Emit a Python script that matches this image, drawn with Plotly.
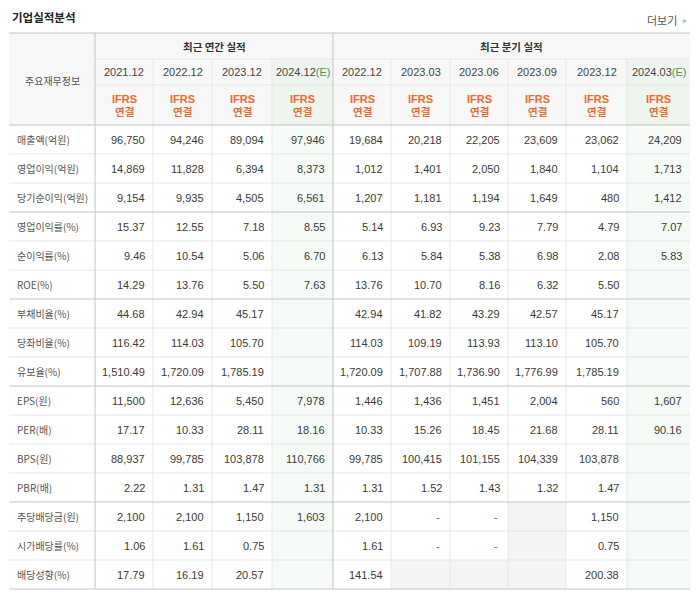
import plotly.graph_objects as go

# ---- data -----
row_labels = [
    "매출액(억원)", "영업이익(억원)", "당기순이익(억원)",
    "영업이익률(%)", "순이익률(%)", "ROE(%)",
    "부채비율(%)", "당좌비율(%)", "유보율(%)",
    "EPS(원)", "PER(배)", "BPS(원)", "PBR(배)",
    "주당배당금(원)", "시가배당률(%)", "배당성향(%)",
]

annual_periods = ["2021.12", "2022.12", "2023.12", "2024.12"]
annual_estimate = [False, False, False, True]
quarter_periods = ["2022.12", "2023.03", "2023.06", "2023.09", "2023.12", "2024.03"]
quarter_estimate = [False, False, False, False, False, True]

# one list per row, "" = blank, None = blank shaded cell
annual_values = [
    ["96,750", "94,246", "89,094", "97,946"],
    ["14,869", "11,828", "6,394", "8,373"],
    ["9,154", "9,935", "4,505", "6,561"],
    ["15.37", "12.55", "7.18", "8.55"],
    ["9.46", "10.54", "5.06", "6.70"],
    ["14.29", "13.76", "5.50", "7.63"],
    ["44.68", "42.94", "45.17", ""],
    ["116.42", "114.03", "105.70", ""],
    ["1,510.49", "1,720.09", "1,785.19", ""],
    ["11,500", "12,636", "5,450", "7,978"],
    ["17.17", "10.33", "28.11", "18.16"],
    ["88,937", "99,785", "103,878", "110,766"],
    ["2.22", "1.31", "1.47", "1.31"],
    ["2,100", "2,100", "1,150", "1,603"],
    ["1.06", "1.61", "0.75", ""],
    ["17.79", "16.19", "20.57", ""],
]

quarter_values = [
    ["19,684", "20,218", "22,205", "23,609", "23,062", "24,209"],
    ["1,012", "1,401", "2,050", "1,840", "1,104", "1,713"],
    ["1,207", "1,181", "1,194", "1,649", "480", "1,412"],
    ["5.14", "6.93", "9.23", "7.79", "4.79", "7.07"],
    ["6.13", "5.84", "5.38", "6.98", "2.08", "5.83"],
    ["13.76", "10.70", "8.16", "6.32", "5.50", ""],
    ["42.94", "41.82", "43.29", "42.57", "45.17", ""],
    ["114.03", "109.19", "113.93", "113.10", "105.70", ""],
    ["1,720.09", "1,707.88", "1,736.90", "1,776.99", "1,785.19", ""],
    ["1,446", "1,436", "1,451", "2,004", "560", "1,607"],
    ["10.33", "15.26", "18.45", "21.68", "28.11", "90.16"],
    ["99,785", "100,415", "101,155", "104,339", "103,878", ""],
    ["1.31", "1.52", "1.43", "1.32", "1.47", ""],
    ["2,100", "-", "-", None, "1,150", ""],
    ["1.61", "-", "-", None, "0.75", ""],
    ["141.54", None, None, None, "200.38", ""],
]

group_breaks = [3, 6, 9, 13]  # darker rule after these rows

# ---- geometry (pixels) -----
W, H = 696, 596
label_x = (9, 95)
annual_edges = [95, 153, 212, 272, 333]
quarter_edges = [333, 391, 450, 508, 566, 627, 690]
head_y = [33, 59, 85, 125]
row_h = 29
body_top = head_y[-1]
body_bottom = body_top + row_h * len(row_labels)

light = "#e6e6e6"
dark = "#c4c4c4"
head_bg = "#f7f7f7"
est_head_bg = "#eef5ef"
est_body_bg = "#f5faf6"
empty_bg = "#f4f4f4"
orange = "#ef6a2c"
green = "#3f9a55"
num_color = "#3a3a3a"
label_color = "#555555"

num_font = "Liberation Sans, Arial, sans-serif"
kr_font = "Noto Sans CJK KR, sans-serif"

shapes = []
annotations = []


def rect(x0, x1, y0, y1, color):
    shapes.append(dict(type="rect", xref="x", yref="y", x0=x0, x1=x1, y0=y0, y1=y1,
                       fillcolor=color, line=dict(width=0), layer="below"))


def hline(x0, x1, y, color):
    shapes.append(dict(type="line", xref="x", yref="y", x0=x0, x1=x1, y0=y, y1=y,
                       line=dict(color=color, width=1)))


def vline(x, y0, y1, color):
    shapes.append(dict(type="line", xref="x", yref="y", x0=x, x1=x, y0=y0, y1=y1,
                       line=dict(color=color, width=1)))


def text(x, y, s, size, color, family, anchor="center", bold=False):
    if bold:
        s = "<b>" + s + "</b>"
    annotations.append(dict(x=x, y=y, xref="x", yref="y", text=s, showarrow=False,
                            xanchor=anchor, yanchor="middle",
                            font=dict(size=size, color=color, family=family)))


columns = []
for i, p in enumerate(annual_periods):
    columns.append((annual_edges[i], annual_edges[i + 1], p, annual_estimate[i], "a", i))
for i, p in enumerate(quarter_periods):
    columns.append((quarter_edges[i], quarter_edges[i + 1], p, quarter_estimate[i], "q", i))

# header background
rect(label_x[0], quarter_edges[-1], head_y[0], head_y[-1], head_bg)
for x0, x1, p, est, kind, i in columns:
    if est:
        rect(x0, x1, head_y[1], head_y[-1], est_head_bg)
        rect(x0, x1, body_top, body_bottom, est_body_bg)

# shaded empty body cells
for r in range(len(row_labels)):
    for x0, x1, p, est, kind, i in columns:
        v = annual_values[r][i] if kind == "a" else quarter_values[r][i]
        if v is None:
            rect(x0, x1, body_top + r * row_h, body_top + (r + 1) * row_h, empty_bg)

# light grid
hline(annual_edges[0], quarter_edges[-1], head_y[1], light)
hline(annual_edges[0], quarter_edges[-1], head_y[2], light)
for r in range(1, len(row_labels)):
    if r not in group_breaks:
        hline(label_x[0], quarter_edges[-1], body_top + r * row_h, light)
for x0, x1, p, est, kind, i in columns:
    if x1 not in (annual_edges[-1], quarter_edges[-1]):
        vline(x1, head_y[1], body_bottom, light)

# darker rules
hline(label_x[0], quarter_edges[-1], head_y[0], dark)
hline(label_x[0], quarter_edges[-1], body_top, dark)
hline(label_x[0], quarter_edges[-1], body_bottom, dark)
for r in group_breaks:
    hline(label_x[0], quarter_edges[-1], body_top + r * row_h, dark)
vline(label_x[1], head_y[0], body_bottom, dark)
vline(annual_edges[-1], head_y[0], body_bottom, dark)

# header text
text((label_x[0] + label_x[1]) / 2, (head_y[0] + head_y[-1]) / 2 + 1, "주요재무정보",
     10, label_color, kr_font)
text((annual_edges[0] + annual_edges[-1]) / 2, (head_y[0] + head_y[1]) / 2, "최근 연간 실적",
     10.5, "#333333", kr_font, bold=True)
text((quarter_edges[0] + quarter_edges[-1]) / 2, (head_y[0] + head_y[1]) / 2, "최근 분기 실적",
     10.5, "#333333", kr_font, bold=True)

for x0, x1, p, est, kind, i in columns:
    cx = (x0 + x1) / 2
    label = p
    if est:
        label = p + "<span style='color:%s'>(E)</span>" % green
    text(cx, (head_y[1] + head_y[2]) / 2, label, 11, "#444444", num_font)
    text(cx, head_y[2] + 14, "IFRS", 11, orange, num_font, bold=True)
    text(cx, head_y[2] + 26, "연결", 10.5, orange, kr_font, bold=True)

# body text
for r, lab in enumerate(row_labels):
    cy = body_top + r * row_h + row_h / 2
    text(label_x[0] + 6, cy, lab, 10, label_color, kr_font, anchor="left")
    for x0, x1, p, est, kind, i in columns:
        v = annual_values[r][i] if kind == "a" else quarter_values[r][i]
        if v:
            if v == "-":
                text(x1 - 8, cy, v, 11, "#666666", num_font, anchor="right")
            else:
                text(x1 - 6, cy, v, 11, num_color, num_font, anchor="right")

# title and link
text(10, 17, "기업실적분석", 11.5, "#222222", kr_font, anchor="left", bold=True)
text(679, 20, "더보기", 11, "#555555", kr_font, anchor="right")
text(685, 20, "▸", 8, "#bbbbbb", num_font)

fig = go.Figure(go.Scatter(x=[], y=[], hoverinfo="skip"))
fig.update_layout(
    width=W,
    height=H,
    margin=dict(l=0, r=0, t=0, b=0),
    paper_bgcolor="white",
    plot_bgcolor="white",
    showlegend=False,
    xaxis=dict(range=[0, W], visible=False, fixedrange=True),
    yaxis=dict(range=[H, 0], visible=False, fixedrange=True),
    shapes=shapes,
    annotations=annotations,
)

fig.write_html("out.html", config={"displayModeBar": False},
               post_script="document.body.style.margin='0';")
